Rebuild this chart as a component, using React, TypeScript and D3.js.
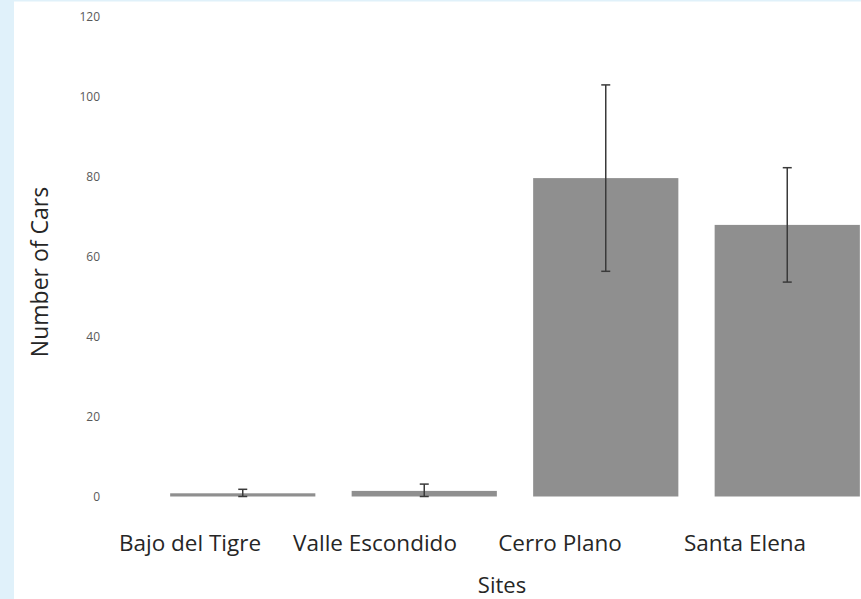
import React from "react";
import * as d3 from "d3";

const sites = ["Bajo del Tigre", "Valle Escondido", "Cerro Plano", "Santa Elena"];
const meanCars = [0.8, 1.4, 79.6, 67.9];
const errCars = [1.0, 1.7, 23.3, 14.3];
const yTicks = [0, 20, 40, 60, 80, 100, 120];

const W = 861;
const H = 599;

export default function App() {
  const y = d3.scaleLinear().domain([0, 120]).range([496.5, 16.5]);
  const x = d3.scaleBand<string>().domain(sites).range([152, 878]).paddingInner(0.2).paddingOuter(0.1);
  const xLabel = d3.scalePoint<string>().domain(sites).range([190, 745]);
  const bw = x.bandwidth();
  const font = "'Open Sans', sans-serif";
  return (
    <div style={{ position: "absolute", left: 0, top: 0 }}>
      <svg width={W} height={H} style={{ display: "block" }}>
        <rect x={0} y={0} width={W} height={H} fill="#ffffff" />
        <rect x={0} y={0} width={14} height={H} fill="#e0f1fa" />
        <rect x={0} y={0} width={W} height={1.5} fill="#e0f1fa" />
        {yTicks.map((t) => (
          <text key={t} x={100} y={y(t)} dy="0.35em" textAnchor="end" fontFamily={font} fontSize={12} fill="#595959">
            {t}
          </text>
        ))}
        {sites.map((s, i) => (
          <rect key={s} x={x(s)} y={y(meanCars[i])} width={bw} height={y(0) - y(meanCars[i])} fill="#8f8f8f" />
        ))}
        {sites.map((s, i) => {
          const cx = (x(s) as number) + bw / 2;
          const top = y(meanCars[i] + errCars[i]);
          const bot = y(Math.max(0, meanCars[i] - errCars[i]));
          return (
            <g key={s} stroke="#3a3a3a" strokeWidth={1.5}>
              <line x1={cx} x2={cx} y1={top} y2={bot} />
              <line x1={cx - 4.5} x2={cx + 4.5} y1={top} y2={top} />
              <line x1={cx - 4.5} x2={cx + 4.5} y1={bot} y2={bot} />
            </g>
          );
        })}
        {sites.map((s) => (
          <text key={s} x={xLabel(s)} y={551} textAnchor="middle" fontFamily={font} fontSize={22.5} fill="#262626">
            {s}
          </text>
        ))}
        <text x={502} y={593} textAnchor="middle" fontFamily={font} fontSize={22} fill="#262626">
          Sites
        </text>
        <text
          transform={`translate(48, 272) rotate(-90)`}
          textAnchor="middle"
          fontFamily={font}
          fontSize={23}
          fill="#262626"
        >
          Number of Cars
        </text>
      </svg>
    </div>
  );
}
